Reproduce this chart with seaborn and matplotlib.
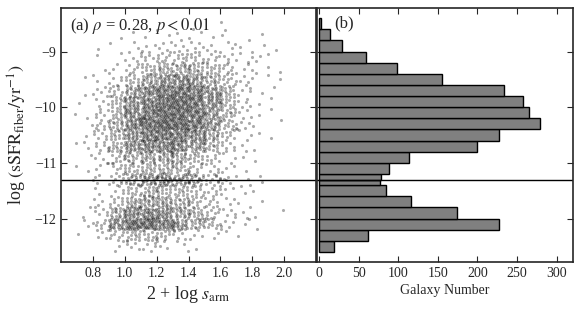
import numpy as np
import pandas as pd
import seaborn as sns
import matplotlib.pyplot as plt

#----------------------------------------------------------------------------
# data

# column edges (2 + log s_arm)
x_edges = [0.6, 0.7, 0.8, 0.9, 1.0, 1.1, 1.2, 1.3, 1.4, 1.5, 1.6, 1.7, 1.8, 1.9, 2.0]
# row edges (log sSFR_fiber), same as the histogram bins, top to bottom
y_edges = [-8.4, -8.6, -8.8, -9.0, -9.2, -9.4, -9.6, -9.8, -10.0, -10.2, -10.4,
           -10.6, -10.8, -11.0, -11.2, -11.3, -11.4, -11.6, -11.8, -12.0,
           -12.2, -12.4, -12.6]
# galaxies per cell (rows follow y_edges, columns follow x_edges)
cell_counts = [
    [0, 0, 0, 0, 0, 0, 0, 0, 1, 0, 1, 0, 0, 0],
    [0, 0, 0, 1, 1, 1, 2, 2, 2, 1, 2, 1, 1, 0],
    [0, 0, 1, 1, 2, 3, 4, 4, 4, 3, 3, 2, 1, 1],
    [0, 0, 1, 2, 4, 6, 9, 10, 9, 7, 5, 3, 2, 1],
    [0, 0, 1, 3, 7, 12, 17, 18, 16, 12, 7, 3, 2, 1],
    [0, 1, 2, 5, 12, 20, 27, 30, 25, 17, 10, 4, 1, 1],
    [0, 1, 4, 10, 22, 33, 39, 40, 36, 27, 15, 5, 1, 1],
    [0, 1, 5, 13, 26, 37, 43, 44, 40, 28, 14, 5, 1, 1],
    [1, 1, 6, 15, 29, 39, 45, 45, 39, 26, 13, 4, 1, 1],
    [0, 1, 7, 18, 33, 44, 48, 46, 39, 25, 12, 4, 1, 1],
    [0, 1, 7, 16, 28, 36, 39, 37, 30, 19, 9, 3, 1, 1],
    [1, 2, 7, 16, 27, 33, 34, 31, 25, 14, 7, 2, 1, 0],
    [0, 1, 4, 9, 15, 20, 21, 18, 13, 8, 3, 1, 1, 0],
    [1, 1, 3, 7, 12, 16, 16, 13, 9, 6, 3, 1, 0, 0],
    [0, 0, 2, 5, 10, 14, 15, 12, 9, 6, 3, 1, 1, 0],
    [0, 0, 2, 5, 10, 14, 14, 12, 9, 6, 3, 1, 1, 0],
    [0, 0, 2, 5, 11, 15, 15, 13, 10, 7, 3, 2, 1, 0],
    [0, 1, 3, 9, 18, 23, 21, 16, 11, 8, 3, 2, 1, 0],
    [0, 1, 6, 18, 31, 34, 29, 22, 15, 9, 5, 2, 1, 1],
    [0, 2, 10, 29, 44, 44, 36, 27, 17, 10, 5, 2, 1, 0],
    [0, 1, 3, 9, 14, 12, 9, 6, 4, 2, 1, 1, 0, 0],
    [0, 0, 0, 3, 5, 5, 3, 2, 1, 0, 0, 0, 0, 0],
]
split_level = -11.3
panel_a_text = r"(a) $\rho$ = 0.28, $p < 0.01$"
panel_b_text = "(b)"
hist_ticks = [0, 50, 100, 150, 200, 250, 300]
scatter_xticks = [0.8, 1.0, 1.2, 1.4, 1.6, 1.8, 2.0]
yticks = [-12, -11, -10, -9]

#----------------------------------------------------------------------------
# spread each cell's galaxies evenly inside the cell (R2 sequence)

xs, ys = [], []
k = 0
for r, row in enumerate(cell_counts):
    y_hi, y_lo = y_edges[r], y_edges[r + 1]
    for c, n in enumerate(row):
        for i in range(n):
            k += 1
            u = (0.5 + k * 0.7548776662) % 1
            v = (0.5 + k * 0.5698402910) % 1
            xs.append(x_edges[c] + u * (x_edges[c + 1] - x_edges[c]))
            ys.append(y_lo + v * (y_hi - y_lo))
df = pd.DataFrame({'sarm': xs, 'ssfr': ys})

#----------------------------------------------------------------------------

sns.set_style("ticks")
plt.rcParams['font.family'] = ['Liberation Serif', 'DejaVu Serif']
plt.rcParams['mathtext.fontset'] = 'stix'
plt.rcParams['xtick.direction'] = 'in'
plt.rcParams['ytick.direction'] = 'in'

fig = plt.figure(figsize=(5.82, 3.13), dpi=100)
ax1 = fig.add_axes([0.105, 0.163, 0.438, 0.811])
ax2 = fig.add_axes([0.544, 0.163, 0.441, 0.811], sharey=ax1)

sns.scatterplot(data=df, x='sarm', y='ssfr', ax=ax1, color='k', alpha=0.33,
                s=5, linewidth=0)
ax1.axhline(split_level, color='k', lw=1)
ax1.set_xlim(0.6, 2.2)
ax1.set_ylim(-12.78, -8.22)
ax1.set_xticks(scatter_xticks)
ax1.set_yticks(yticks)
ax1.set_xlabel(r"2 + log $s_{\rm arm}$", fontsize=13, labelpad=3)
ax1.set_ylabel(r"log $({\rm sSFR}_{\rm fiber}/{\rm yr}^{-1})$", fontsize=13, labelpad=4)
ax1.text(0.035, 0.97, panel_a_text, transform=ax1.transAxes, fontsize=12,
         va='top', ha='left')

sns.histplot(y=ys, bins=sorted(y_edges), ax=ax2, color='#808080',
             edgecolor='k', alpha=1, linewidth=1)
ax2.axhline(split_level, color='k', lw=1)
ax2.set_xlim(-3, 321)
ax2.set_xticks(hist_ticks)
ax2.set_xlabel("Galaxy Number", fontsize=10, labelpad=3)
ax2.set_ylabel("")
ax2.tick_params(axis='y', labelleft=False)
ax2.text(0.07, 0.97, panel_b_text, transform=ax2.transAxes, fontsize=12,
         va='top', ha='left')

for ax in (ax1, ax2):
    ax.tick_params(top=True, right=True, length=4, width=0.8, labelsize=10)
    for sp in ax.spines.values():
        sp.set_linewidth(1.2)

plt.savefig('out.png', dpi=100)
